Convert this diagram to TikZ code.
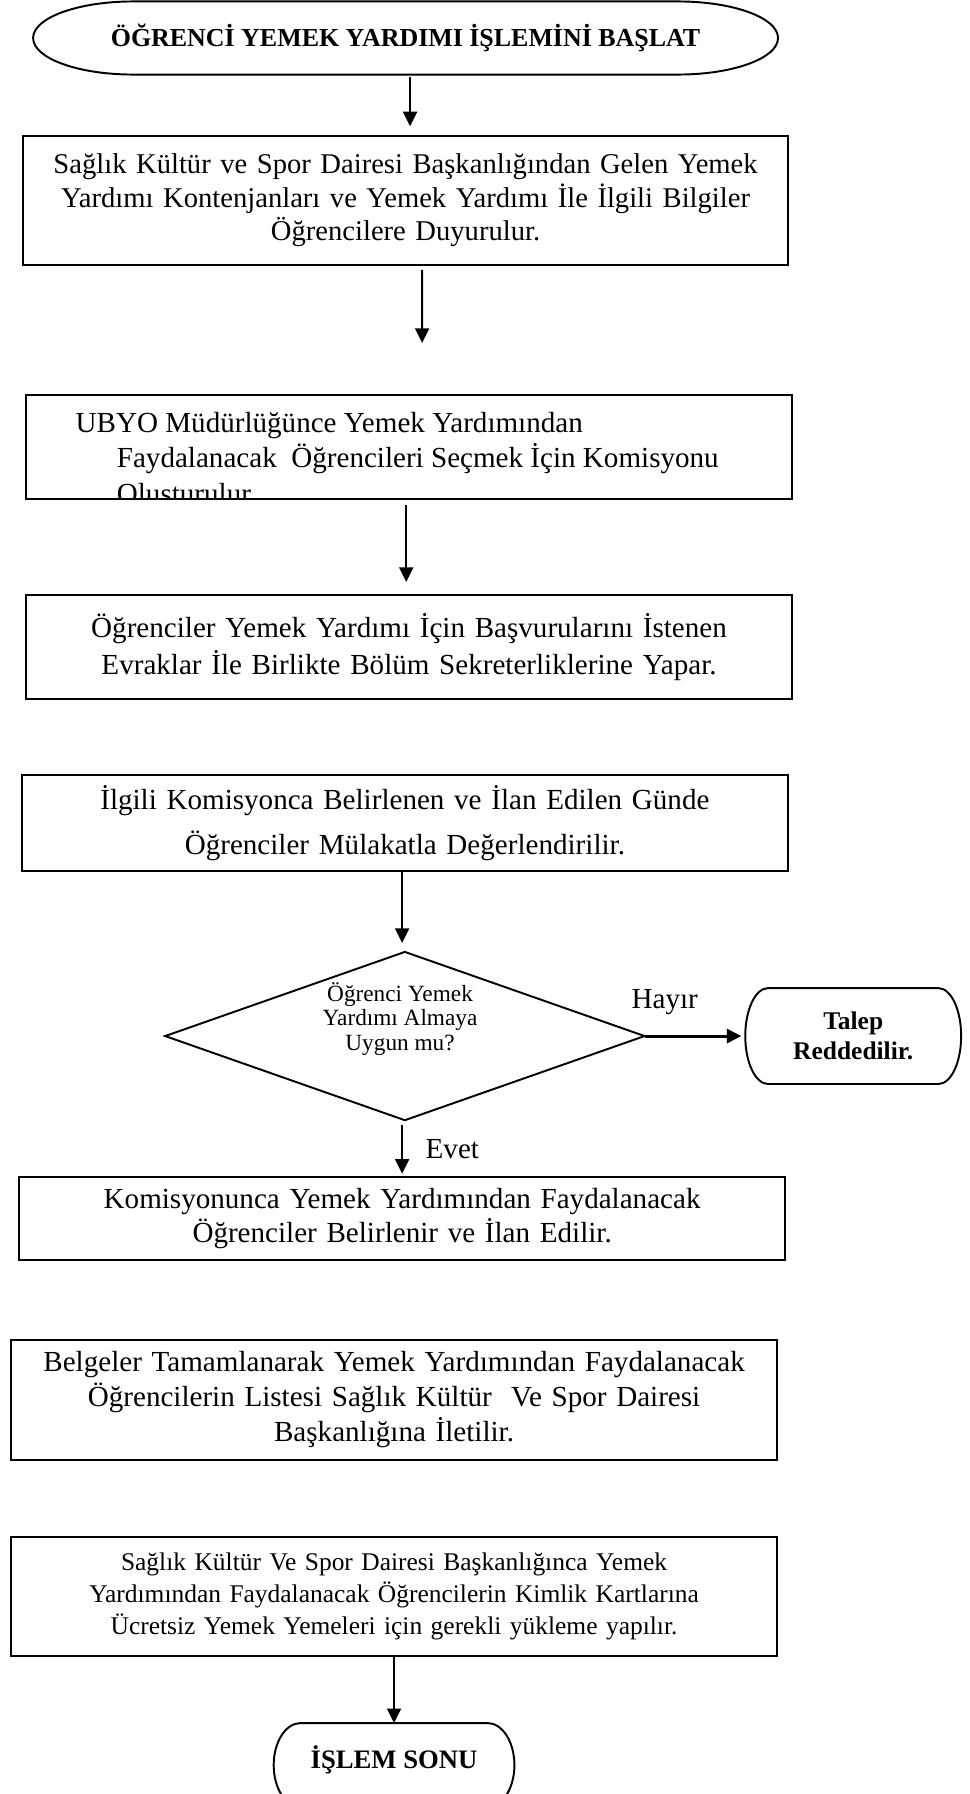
\documentclass[tikz,border=0pt]{standalone}
\usepackage{fontspec}
\setmainfont{Liberation Serif}
\usetikzlibrary{arrows.meta,positioning,calc,shapes.geometric}
\tikzset{
  box/.style={draw, line width=0.8pt, align=center, text width=10.6cm, minimum width=11.1cm, inner sep=0pt, outer sep=0pt, font=\fontsize{12}{13.8}\selectfont},
  decision/.style={draw, diamond, aspect=2.85, line width=0.8pt, minimum width=6.95cm, minimum height=2.44cm, inner sep=0pt, outer sep=0pt},
  term/.style={align=center, inner sep=0pt, outer sep=0pt, font=\bfseries\fontsize{10.7}{11}\selectfont},
  line/.style={-{Triangle[length=6pt,width=5.8pt]}, line width=0.8pt},
  lbl/.style={font=\fontsize{12}{13.8}\selectfont}
}

\begin{document}
\begin{tikzpicture}
  \useasboundingbox (0,0) rectangle (14.05,-26.01);
  \node[term, minimum width=10.8cm, minimum height=1.06cm] (start) at (5.88,-0.551) {ÖĞRENCİ YEMEK YARDIMI İŞLEMİNİ BAŞLAT};
  \node[box, minimum height=1.87cm, below=0.89cm of start, font=\fontsize{11.8}{13.8}\selectfont] (box1) {Sağlık Kültür ve Spor Dairesi Başkanlığından Gelen Yemek\\Yardımı Kontenjanları ve Yemek Yardımı İle İlgili Bilgiler\\Öğrencilere Duyurulur.};
  \node[box, minimum height=1.51cm, below=1.885cm of box1, xshift=0.05cm] (box2) {};
  \begin{scope}
    \clip (box2.north west) rectangle (box2.south east);
    \node[lbl, align=left, inner sep=0pt, anchor=base west, font=\fontsize{12}{14.5}\selectfont] (box2txt) at ($(box2.north west)+(0.71,-1.567)$) {UBYO Müdürlüğünce Yemek Yardımından\\\hspace*{17pt}Faydalanacak~ Öğrencileri Seçmek İçin Komisyonu\\\hspace*{17pt}Oluşturulur};
  \end{scope}
  \node[box, minimum height=1.51cm, below=1.39cm of box2, font=\fontsize{12}{15.2}\selectfont] (box3) {Öğrenciler Yemek Yardımı İçin Başvurularını İstenen\\Evraklar İle Birlikte Bölüm Sekreterliklerine Yapar.};
  \node[box, minimum height=1.39cm, below=1.10cm of box3, xshift=-0.06cm, font=\fontsize{12}{18.6}\selectfont] (box4) {İlgili Komisyonca Belirlenen ve İlan Edilen Günde\\Öğrenciler Mülakatla Değerlendirilir.};
  \node[decision, below=1.175cm of box4] (karar) {};
  \node[align=center, inner sep=0pt, font=\fontsize{9.6}{10.2}\selectfont] (karartxt) at ([xshift=-0.07cm, yshift=0.25cm]karar.center) {Öğrenci Yemek\\Yardımı Almaya\\Uygun mu?};
  \node[term, font=\bfseries\fontsize{10.5}{12.5}\selectfont, minimum width=3.13cm, minimum height=1.39cm, right=1.46cm of karar] (talep) {Talep\\Reddedilir.};
  \node[box, minimum height=1.19cm, below=0.83cm of karar, xshift=-0.04cm, font=\fontsize{12}{14}\selectfont] (box5) {Komisyonunca Yemek Yardımından Faydalanacak\\Öğrenciler Belirlenir ve İlan Edilir.};
  \node[box, minimum height=1.74cm, below=1.16cm of box5, xshift=-0.117cm, font=\fontsize{12}{14.4}\selectfont] (box6) {Belgeler Tamamlanarak Yemek Yardımından Faydalanacak\\Öğrencilerin Listesi Sağlık Kültür~ Ve Spor Dairesi\\Başkanlığına İletilir.};
  \node[box, minimum height=1.73cm, below=1.12cm of box6, font=\fontsize{10.5}{13.2}\selectfont] (box7) {Sağlık Kültür Ve Spor Dairesi Başkanlığınca Yemek\\Yardımından Faydalanacak Öğrencilerin Kimlik Kartlarına\\Ücretsiz Yemek Yemeleri için gerekli yükleme yapılır.};
  \node[term, font=\bfseries\fontsize{11}{11}\selectfont, text depth=7pt, minimum width=3.49cm, minimum height=1.22cm, below=0.97cm of box7] (son) {İŞLEM SONU};

  % terminal outlines with elliptic ends
  \foreach \n/\rx/\ry in {start/1.45/0.53, talep/0.33/0.695, son/0.39/0.61}
    \draw[line width=0.8pt] ($(\n.north west)+(\rx,0)$) -- ($(\n.north east)+(-\rx,0)$)
      arc[start angle=90, end angle=-90, x radius=\rx, y radius=\ry]
      -- ($(\n.south west)+(\rx,0)$)
      arc[start angle=270, end angle=90, x radius=\rx, y radius=\ry] -- cycle;

  \draw[line, shorten <=1pt, shorten >=4pt] ([xshift=0.065cm]start.south) -- ([xshift=0.065cm]box1.north);
  \draw[line, shorten <=2pt, shorten >=21.5pt] ([xshift=0.24cm]box1.south) -- ([xshift=0.19cm]box2.north);
  \draw[line, shorten <=2.5pt, shorten >=5.4pt] ([xshift=-0.04cm]box2.south) -- ([xshift=-0.04cm]box3.north);
  \draw[line, shorten >=3.7pt] ([xshift=-0.04cm]box4.south) -- ([xshift=-0.04cm]karar.north);
  \draw[line, line width=1.2pt, shorten >=1.6pt] (karar.east) -- (talep.west) node[lbl, above=5pt, pos=0.2] (hayir) {Hayır};
  \draw[line, shorten <=2pt, shorten >=1.6pt] ([xshift=-0.04cm]karar.south) -- (box5.north) node[lbl, right=6pt, midway] (evet) {Evet};
  \draw[line] (box7.south) -- (son.north);
\end{tikzpicture}
\end{document}
